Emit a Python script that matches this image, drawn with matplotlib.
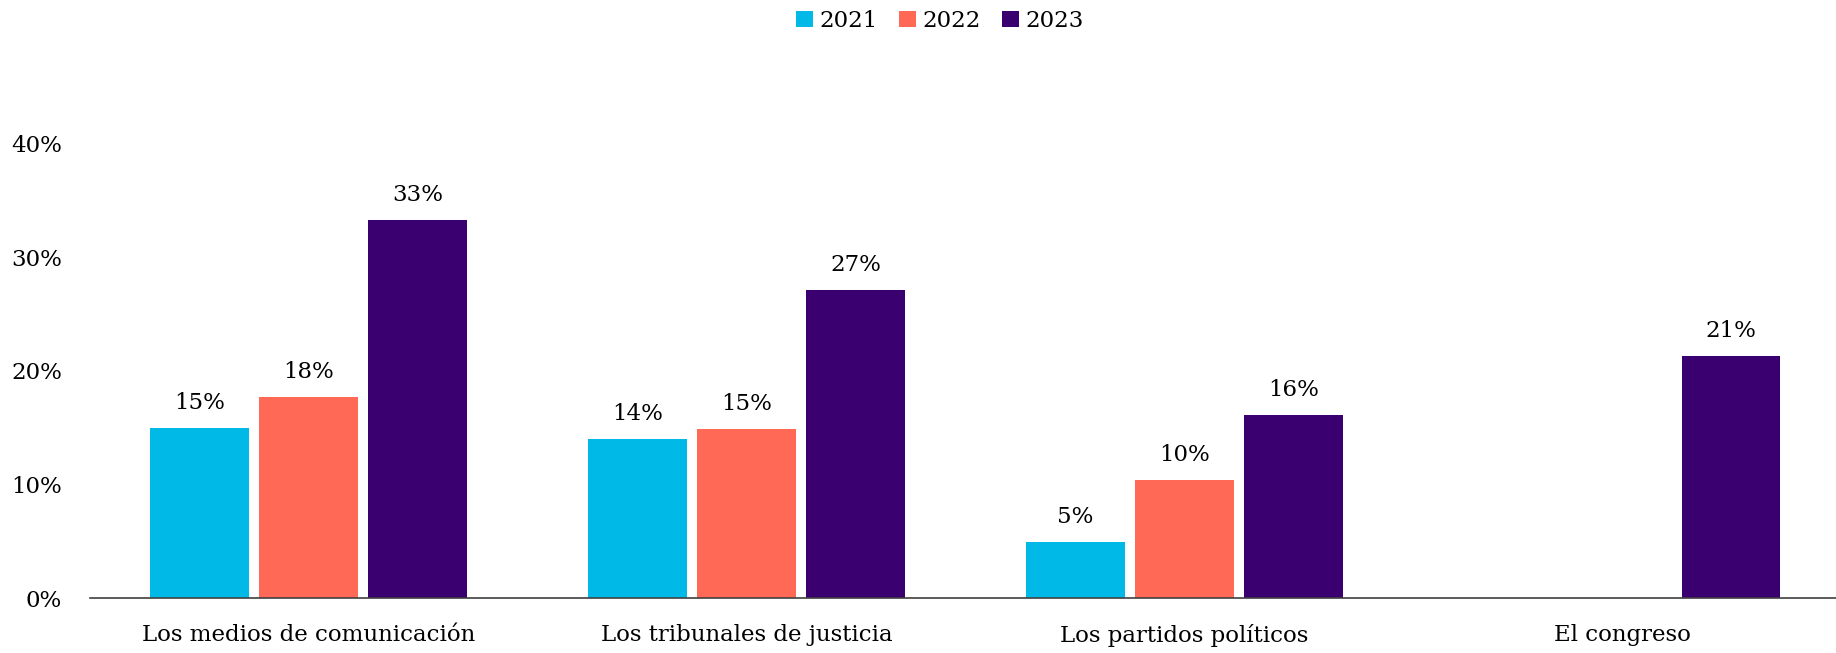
import numpy as np
import matplotlib.pyplot as plt

plt.rcParams['font.family'] = ['DejaVu Serif']

categories = ["Los medios de comunicación", "Los tribunales de justicia",
              "Los partidos políticos", "El congreso"]
years = ["2021", "2022", "2023"]
v_2021 = [15.0, 14.0, 4.9, np.nan]
v_2022 = [17.7, 14.9, 10.4, np.nan]
v_2023 = [33.3, 27.1, 16.1, 21.3]
colors = ["#00B9E7", "#FF6955", "#3A0070"]

fig = plt.figure(figsize=(18.36, 6.53), dpi=100)
ax = fig.add_axes([0.0488, 0.0842, 0.954, 0.6961])

x = np.arange(len(categories))
w = 0.225
step = 0.249
for i, (vals, c, lab) in enumerate(zip([v_2021, v_2022, v_2023], colors, years)):
    bars = ax.bar(x + (i - 1) * step, vals, width=w, color=c, label=lab)
    txt = ["" if np.isnan(v) else f"{v:.0f}%" for v in vals]
    ax.bar_label(bars, labels=txt, padding=10, fontsize=16.5)

ax.set_xlim(-0.5, 3.5)
ax.set_ylim(0, 40)
ax.set_yticks([0, 10, 20, 30, 40])
ax.set_yticklabels(["0%", "10%", "20%", "30%", "40%"])
ax.set_xticks(x)
ax.set_xticklabels(categories)
ax.tick_params(axis='both', length=0, labelsize=16.5)
ax.tick_params(axis='y', pad=20)
ax.tick_params(axis='x', pad=19)

for s in ['top', 'right', 'left']:
    ax.spines[s].set_visible(False)
ax.spines['bottom'].set_color('#404040')
ax.spines['bottom'].set_linewidth(1.2)

fig.legend(loc='center', bbox_to_anchor=(0.512, 0.968), ncol=3, frameon=False,
           fontsize=16.5, handlelength=0.75, handleheight=0.75,
           handletextpad=0.3, columnspacing=0.9)

plt.savefig("out.png", dpi=100)
